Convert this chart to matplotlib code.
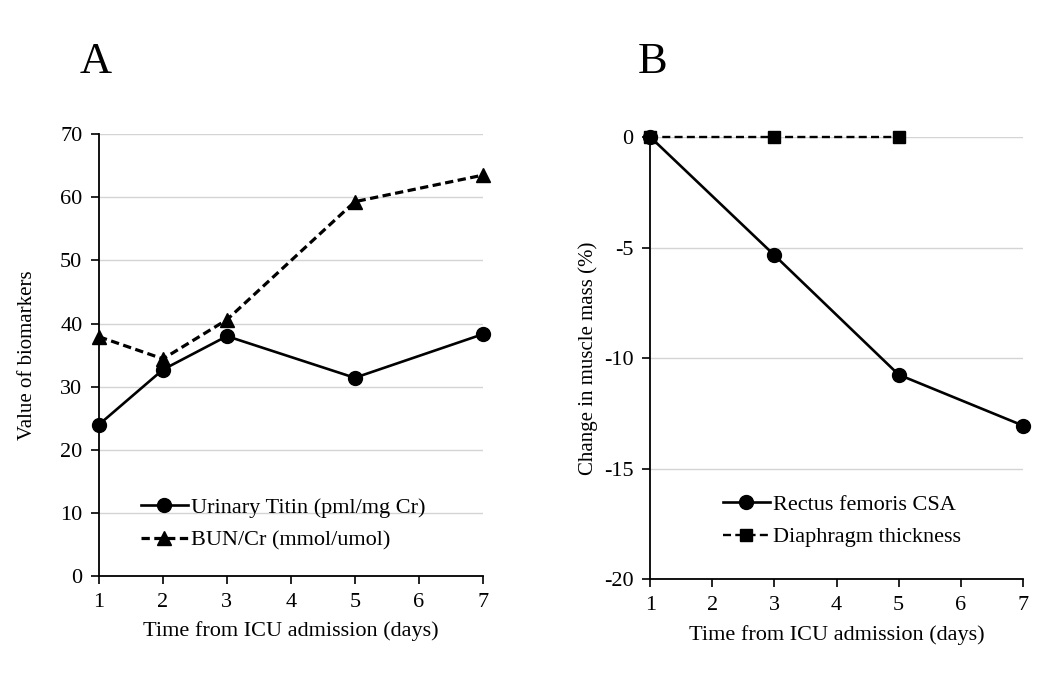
import matplotlib
matplotlib.use("Agg")
import matplotlib.pyplot as plt

plt.rcParams['font.family'] = ['Liberation Serif', 'DejaVu Serif']
plt.rcParams['axes.unicode_minus'] = False

# panel A data
days_a = [1, 2, 3, 5, 7]
titin = [24.0, 32.7, 38.0, 31.4, 38.3]
bun_cr = [37.9, 34.4, 40.6, 59.3, 63.5]

# panel B data
days_rf = [1, 3, 5, 7]
rectus = [0.0, -5.35, -10.75, -13.05]
days_di = [1, 3, 5]
diaphragm = [0.0, 0.0, 0.0]

xticks = [1, 2, 3, 4, 5, 6, 7]

fig = plt.figure(figsize=(10.47, 6.88), dpi=100)
ax1 = fig.add_axes([0.0946, 0.1628, 0.3664, 0.6422])
ax2 = fig.add_axes([0.621, 0.158, 0.356, 0.643])

ax1.plot(days_a, titin, color='black', lw=1.9, marker='o', ms=10,
         label='Urinary Titin (pml/mg Cr)', clip_on=False, zorder=3)
ax1.plot(days_a, bun_cr, color='black', lw=2.3, ls=(0, (2.6, 1.4)), marker='^', ms=10,
         label='BUN/Cr (mmol/umol)', clip_on=False, zorder=3)
ax1.set_ylim(0, 70)
ax1.set_yticks(range(0, 71, 10))
ax1.set_ylabel('Value of biomarkers', fontsize=15, labelpad=17)

ax2.plot(days_rf, rectus, color='black', lw=1.9, marker='o', ms=10,
         label='Rectus femoris CSA', clip_on=False, zorder=3)
ax2.plot(days_di, diaphragm, color='black', lw=1.7, ls=(0, (3.4, 1.8)), marker='s', ms=9,
         label='Diaphragm thickness', clip_on=False, zorder=3)
ax2.set_ylim(-20, 0)
ax2.set_yticks(range(-20, 1, 5))
ax2.set_ylabel('Change in muscle mass (%)', fontsize=15, labelpad=4)

for ax in (ax1, ax2):
    ax.set_xlim(1, 7)
    ax.set_xticks(xticks)
    ax.set_xlabel('Time from ICU admission (days)', fontsize=16, labelpad=7)
    ax.tick_params(labelsize=16, direction='out', length=6, width=1.2,
                   color='black', pad=6)
    ax.spines['top'].set_visible(False)
    ax.spines['right'].set_visible(False)
    ax.spines['left'].set_linewidth(1.3)
    ax.spines['bottom'].set_linewidth(1.3)
    ax.yaxis.grid(True, color='#d4d4d4', lw=1.0)
    ax.set_axisbelow(True)

ax1.legend(loc='lower center', bbox_to_anchor=(0.48, 0.012), frameon=False,
           fontsize=16, handlelength=2.1, handletextpad=0.15, labelspacing=0.55)
ax2.legend(loc='lower center', bbox_to_anchor=(0.515, 0.027), frameon=False,
           fontsize=16, handlelength=2.1, handletextpad=0.15, labelspacing=0.55)

fig.text(0.076, 0.894, 'A', fontsize=32, va='baseline')
fig.text(0.609, 0.894, 'B', fontsize=32, va='baseline')

fig.savefig('out.png', dpi=100, facecolor='white')
